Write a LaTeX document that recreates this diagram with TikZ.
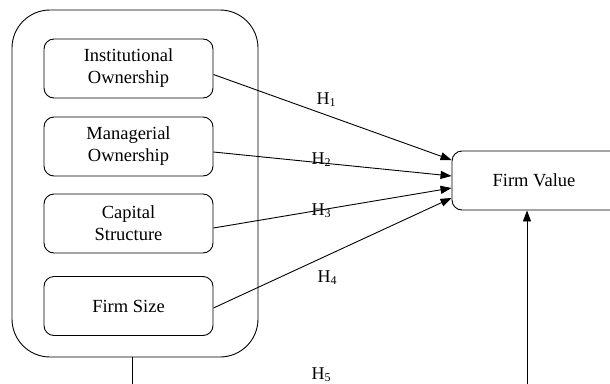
\documentclass[tikz,border=0pt]{standalone}
\usepackage{fontspec}
\setmainfont{Liberation Serif}
\usetikzlibrary{arrows.meta}
\begin{document}
\begin{tikzpicture}[x=1pt,y=-1pt,
  inbox/.style={draw,line width=0.9pt,rounded corners=10pt,minimum width=169pt,minimum height=59pt,align=center,inner sep=0pt,font=\fontsize{18.5}{22}\selectfont},
  outbox/.style={draw,line width=0.9pt,rounded corners=38pt,minimum width=246pt,minimum height=347pt,inner sep=0pt},
  conn/.style={line width=0.9pt},
  arr/.style={line width=0.9pt,-{Triangle[length=11pt,width=8pt]}},
  hlab/.style={inner sep=0pt,font=\fontsize{18}{20}\selectfont}]
\useasboundingbox (0,0) rectangle (610,383);
\clip (0,0) rectangle (610,383);
\node[outbox] (big) at (135,183.5) {};
\node[inbox] (b1) at (128.5,68.5) {Institutional\\Ownership};
\node[inbox] (b2) at (128.5,146.5) {Managerial\\Ownership};
\node[inbox] (b3) at (128.5,223.5) {Capital\\Structure};
\node[inbox] (b4) at (128.5,306) {Firm Size};
\node[draw,line width=0.9pt,rounded corners=10pt,minimum width=176pt,minimum height=59pt,inner sep=0pt,font=\fontsize{18.5}{22}\selectfont] (fv) at (540,180.5) {\hspace*{-12pt}Firm Value};
\coordinate (bl) at (132,395);
\coordinate (br) at (527,395);
\draw[arr] ([yshift=-6pt]b1.east) -- ([yshift=20.5pt]fv.west);
\draw[arr] ([yshift=-5.5pt]b2.east) -- ([yshift=4.5pt]fv.west);
\draw[arr] ([yshift=-4.5pt]b3.east) -- ([yshift=-7.5pt]fv.west);
\draw[arr] ([yshift=-2pt]b4.east) -- ([yshift=-17.5pt]fv.west);
\draw[conn] ([xshift=-3pt]big.south) -- (bl);
\draw[arr] (br) -- ([xshift=-13pt]fv.south);
\node[hlab] (h1) at (326,100) {H\raisebox{-0.25ex}{\fontsize{12}{12}\selectfont 1}};
\node[hlab] (h2) at (321,160) {H\raisebox{-0.25ex}{\fontsize{12}{12}\selectfont 2}};
\node[hlab] (h3) at (321,211) {H\raisebox{-0.25ex}{\fontsize{12}{12}\selectfont 3}};
\node[hlab] (h4) at (327,278) {H\raisebox{-0.25ex}{\fontsize{12}{12}\selectfont 4}};
\node[hlab] (h5) at (321,375) {H\raisebox{-0.25ex}{\fontsize{12}{12}\selectfont 5}};
\end{tikzpicture}
\end{document}
